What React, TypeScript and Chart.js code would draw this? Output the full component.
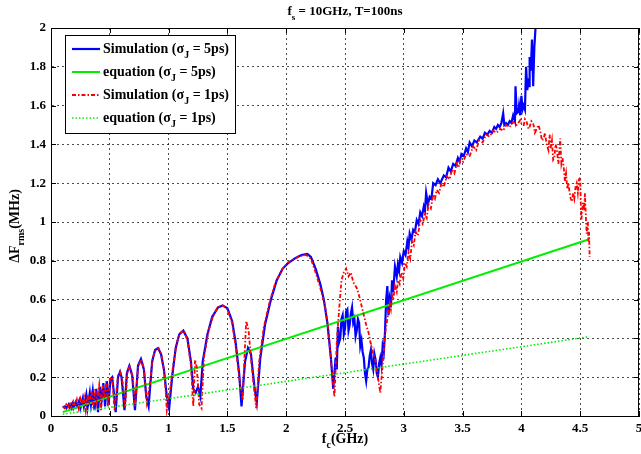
import { useEffect, useRef } from 'react';
import { Chart, registerables } from 'chart.js';

Chart.register(...registerables);

// Simulation, sigma_J = 5ps (blue)
const sim5X = [
  0.10, 0.12, 0.13, 0.15, 0.16, 0.18, 0.19, 0.21, 0.22, 0.24, 0.25, 0.27, 0.28, 0.30, 0.31, 0.33, 0.34, 0.355, 0.37, 0.385,
  0.40, 0.415, 0.43, 0.445, 0.46, 0.475, 0.49, 0.505, 0.52, 0.535, 0.55, 0.57, 0.587, 0.60, 0.625, 0.645, 0.666, 0.69, 0.714, 0.74,
  0.765, 0.79, 0.81, 0.83, 0.86, 0.885, 0.91, 0.935, 0.96, 0.985, 1.005, 1.03, 1.06, 1.09, 1.125, 1.16, 1.19, 1.21, 1.23, 1.25,
  1.27, 1.29, 1.33, 1.37, 1.42, 1.46, 1.50, 1.54, 1.57, 1.60, 1.62, 1.65, 1.675, 1.70, 1.73, 1.75, 1.78, 1.82, 1.87, 1.92,
  1.97, 2.02, 2.08, 2.13, 2.18, 2.21, 2.25, 2.29, 2.32, 2.35, 2.38, 2.40, 2.42, 2.43, 2.44, 2.45, 2.46, 2.47, 2.48, 2.49,
  2.50, 2.51, 2.52, 2.53, 2.54, 2.55, 2.56, 2.57, 2.58, 2.59, 2.60, 2.61, 2.62, 2.63, 2.64, 2.65, 2.66, 2.67, 2.68, 2.69,
  2.70, 2.71, 2.72, 2.73, 2.74, 2.75, 2.76, 2.77, 2.78, 2.79, 2.80, 2.81, 2.82, 2.83, 2.84, 2.85, 2.86, 2.87, 2.88, 2.89,
  2.90, 2.91, 2.925, 2.94, 2.95, 2.96, 2.97, 2.985, 3.00, 3.015, 3.03, 3.04, 3.05, 3.065, 3.08, 3.095, 3.11, 3.125, 3.14, 3.155,
  3.17, 3.18, 3.19, 3.205, 3.22, 3.235, 3.25, 3.27, 3.29, 3.31, 3.34, 3.36, 3.38, 3.40, 3.42, 3.44, 3.46, 3.475, 3.49, 3.51,
  3.53, 3.545, 3.56, 3.58, 3.60, 3.62, 3.65, 3.67, 3.69, 3.71, 3.73, 3.75, 3.77, 3.785, 3.80, 3.815, 3.83, 3.845, 3.855, 3.87,
  3.885, 3.90, 3.915, 3.93, 3.945, 3.95, 3.96, 3.975, 3.98, 3.99, 4.00, 4.01, 4.02, 4.03, 4.04, 4.05, 4.06, 4.065, 4.07, 4.08,
  4.09, 4.10, 4.11, 4.12,
];
const sim5Y = [
  0.045, 0.05, 0.04, 0.06, 0.045, 0.065, 0.04, 0.07, 0.05, 0.08, 0.04, 0.09, 0.05, 0.11, 0.04, 0.12, 0.06, 0.13, 0.03, 0.14,
  0.02, 0.15, 0.08, 0.17, 0.05, 0.18, 0.06, 0.19, 0.20, 0.12, 0.02, 0.20, 0.228, 0.20, 0.03, 0.22, 0.258, 0.21, 0.03, 0.26,
  0.294, 0.24, 0.10, 0.05, 0.28, 0.34, 0.35, 0.32, 0.24, 0.10, 0.04, 0.20, 0.35, 0.42, 0.44, 0.40, 0.28, 0.14, 0.12, 0.15,
  0.10, 0.28, 0.42, 0.51, 0.56, 0.57, 0.555, 0.49, 0.38, 0.22, 0.05, 0.28, 0.35, 0.32, 0.15, 0.07, 0.30, 0.47, 0.60, 0.70,
  0.76, 0.79, 0.815, 0.83, 0.835, 0.82, 0.76, 0.68, 0.60, 0.48, 0.30, 0.14, 0.30, 0.24, 0.46, 0.38, 0.40, 0.50, 0.52, 0.42,
  0.45, 0.54, 0.55, 0.44, 0.47, 0.53, 0.56, 0.48, 0.50, 0.41, 0.44, 0.50, 0.48, 0.36, 0.39, 0.33, 0.30, 0.22, 0.18, 0.24,
  0.25, 0.31, 0.34, 0.27, 0.24, 0.32, 0.29, 0.22, 0.20, 0.27, 0.30, 0.26, 0.36, 0.33, 0.43, 0.60, 0.67, 0.52, 0.60, 0.56,
  0.70, 0.64, 0.77, 0.72, 0.78, 0.75, 0.82, 0.79, 0.85, 0.83, 0.90, 0.87, 0.94, 0.91, 0.96, 0.95, 1.01, 0.99, 1.05, 1.03,
  1.08, 1.06, 1.15, 1.09, 1.13, 1.12, 1.20, 1.19, 1.22, 1.20, 1.24, 1.23, 1.28, 1.26, 1.30, 1.29, 1.33, 1.31, 1.35, 1.34,
  1.38, 1.36, 1.41, 1.39, 1.42, 1.41, 1.44, 1.43, 1.46, 1.45, 1.47, 1.46, 1.49, 1.48, 1.50, 1.49, 1.51, 1.56, 1.50, 1.51,
  1.50, 1.52, 1.51, 1.55, 1.52, 1.70, 1.56, 1.57, 1.60, 1.55, 1.65, 1.58, 1.60, 1.58, 1.80, 1.68, 1.74, 1.70, 1.85, 1.78,
  1.94, 1.70, 1.90, 2.00,
];

// Simulation, sigma_J = 1ps (red)
const sim1X = [
  0.10, 0.115, 0.13, 0.145, 0.16, 0.175, 0.19, 0.205, 0.22, 0.235, 0.25, 0.265, 0.28, 0.295, 0.31, 0.325, 0.345, 0.36, 0.375, 0.39,
  0.41, 0.425, 0.44, 0.455, 0.47, 0.485, 0.50, 0.52, 0.54, 0.555, 0.57, 0.59, 0.61, 0.63, 0.65, 0.67, 0.695, 0.715, 0.74, 0.765,
  0.79, 0.815, 0.84, 0.865, 0.89, 0.915, 0.94, 0.965, 0.985, 1.01, 1.04, 1.07, 1.10, 1.13, 1.16, 1.19, 1.21, 1.225, 1.24, 1.26,
  1.28, 1.30, 1.34, 1.38, 1.42, 1.46, 1.50, 1.54, 1.57, 1.60, 1.63, 1.645, 1.66, 1.68, 1.70, 1.72, 1.745, 1.77, 1.81, 1.86,
  1.91, 1.96, 2.01, 2.07, 2.12, 2.17, 2.21, 2.25, 2.29, 2.33, 2.36, 2.39, 2.41, 2.43, 2.45, 2.47, 2.49, 2.51, 2.53, 2.55,
  2.57, 2.60, 2.62, 2.64, 2.66, 2.68, 2.70, 2.72, 2.74, 2.76, 2.78, 2.80, 2.82, 2.84, 2.86, 2.88, 2.89, 2.90, 2.91, 2.925,
  2.94, 2.95, 2.965, 2.98, 2.995, 3.01, 3.025, 3.04, 3.055, 3.07, 3.085, 3.10, 3.12, 3.14, 3.16, 3.18, 3.195, 3.21, 3.23, 3.25,
  3.265, 3.28, 3.30, 3.32, 3.34, 3.365, 3.39, 3.41, 3.43, 3.45, 3.465, 3.48, 3.505, 3.53, 3.56, 3.59, 3.615, 3.64, 3.67, 3.70,
  3.73, 3.76, 3.79, 3.82, 3.845, 3.87, 3.90, 3.93, 3.96, 3.99, 4.005, 4.02, 4.03, 4.045, 4.06, 4.07, 4.085, 4.10, 4.115, 4.13,
  4.145, 4.16, 4.175, 4.19, 4.20, 4.215, 4.23, 4.24, 4.25, 4.26, 4.27, 4.28, 4.29, 4.30, 4.315, 4.33, 4.34, 4.35, 4.36, 4.37,
  4.38, 4.39, 4.40, 4.41, 4.42, 4.43, 4.44, 4.45, 4.46, 4.47, 4.48, 4.49, 4.50, 4.505, 4.51, 4.52, 4.525, 4.535, 4.54, 4.55,
  4.555, 4.565, 4.57, 4.575, 4.58,
];
const sim1Y = [
  0.05, 0.04, 0.06, 0.045, 0.07, 0.04, 0.075, 0.05, 0.085, 0.04, 0.09, 0.06, 0.10, 0.03, 0.11, 0.07, 0.13, 0.04, 0.14, 0.07,
  0.16, 0.03, 0.16, 0.09, 0.18, 0.05, 0.19, 0.20, 0.03, 0.12, 0.21, 0.225, 0.17, 0.04, 0.23, 0.255, 0.20, 0.05, 0.25, 0.29,
  0.25, 0.07, 0.16, 0.30, 0.34, 0.35, 0.31, 0.22, 0.03, 0.12, 0.27, 0.38, 0.43, 0.44, 0.39, 0.26, 0.05, 0.29, 0.25, 0.06,
  0.04, 0.30, 0.44, 0.52, 0.56, 0.57, 0.55, 0.48, 0.36, 0.20, 0.08, 0.30, 0.49, 0.44, 0.30, 0.18, 0.04, 0.28, 0.46, 0.59,
  0.69, 0.75, 0.79, 0.81, 0.825, 0.83, 0.81, 0.74, 0.66, 0.57, 0.44, 0.22, 0.10, 0.38, 0.55, 0.70, 0.74, 0.76, 0.72, 0.74,
  0.69, 0.66, 0.62, 0.57, 0.52, 0.47, 0.43, 0.37, 0.32, 0.28, 0.20, 0.12, 0.26, 0.42, 0.50, 0.58, 0.55, 0.62, 0.60, 0.67,
  0.64, 0.70, 0.68, 0.74, 0.71, 0.79, 0.77, 0.84, 0.81, 0.90, 0.88, 0.95, 0.93, 1.01, 0.99, 1.04, 1.02, 1.09, 1.07, 1.14,
  1.12, 1.165, 1.15, 1.20, 1.18, 1.235, 1.22, 1.27, 1.25, 1.30, 1.28, 1.32, 1.31, 1.35, 1.34, 1.39, 1.37, 1.42, 1.41, 1.45,
  1.44, 1.47, 1.46, 1.48, 1.47, 1.50, 1.49, 1.515, 1.50, 1.525, 1.50, 1.50, 1.53, 1.515, 1.48, 1.49, 1.52, 1.51, 1.46, 1.48,
  1.50, 1.47, 1.42, 1.43, 1.46, 1.40, 1.37, 1.45, 1.38, 1.42, 1.32, 1.33, 1.40, 1.38, 1.30, 1.43, 1.30, 1.33, 1.28, 1.21,
  1.25, 1.17, 1.20, 1.15, 1.12, 1.105, 1.15, 1.12, 1.18, 1.20, 1.15, 1.22, 1.23, 1.10, 1.01, 1.08, 1.10, 1.06, 1.15, 1.00,
  0.94, 1.00, 0.90, 0.95, 0.82,
];

// Equation lines (straight, two end points each)
const eq5X = [0.1, 4.57];
const eq5Y = [0.02, 0.91];
const eq1X = [0.1, 4.57];
const eq1Y = [0.009, 0.408];

const legendNames = ['Simulation', 'equation', 'Simulation', 'equation'];
const legendSigma = ['5ps', '5ps', '1ps', '1ps'];

const FONT = '"Liberation Serif", "Times New Roman", serif';

const zip = (xs: number[], ys: number[]) => xs.map((x, i) => ({ x, y: ys[i] }));

type Part = { t: string; sub?: boolean };

function drawRich(ctx: CanvasRenderingContext2D, parts: Part[], x: number, y: number, align: 'left' | 'center', size: number) {
  const main = `bold ${size}px ${FONT}`;
  const sub = `bold ${Math.round(size * 0.72)}px ${FONT}`;
  let w = 0;
  for (const p of parts) {
    ctx.font = p.sub ? sub : main;
    w += ctx.measureText(p.t).width;
  }
  let cx = align === 'center' ? x - w / 2 : x;
  ctx.textAlign = 'left';
  ctx.textBaseline = 'alphabetic';
  for (const p of parts) {
    ctx.font = p.sub ? sub : main;
    ctx.fillText(p.t, cx, p.sub ? y + size * 0.35 : y);
    cx += ctx.measureText(p.t).width;
  }
}

const styles = [
  { color: '#0000ff', width: 2.2, dash: [] as number[] },
  { color: '#00ee00', width: 2, dash: [] as number[] },
  { color: '#ff0000', width: 1.8, dash: [4, 2, 1.5, 2] },
  { color: '#00ee00', width: 1.6, dash: [1.5, 2] },
];

const fmt = (v: number | string) => String(Number(Number(v).toFixed(2)));

const decorPlugin = {
  id: 'decor',
  afterDraw(chart: any) {
    const ctx: CanvasRenderingContext2D = chart.ctx;
    const { left, right, top, bottom } = chart.chartArea;
    const xs = chart.scales.x;
    const ys = chart.scales.y;
    ctx.save();
    // frame
    ctx.strokeStyle = '#000';
    ctx.lineWidth = 1;
    ctx.setLineDash([]);
    ctx.strokeRect(Math.round(left) + 0.5, Math.round(top) + 0.5, Math.round(right - left) - 1, Math.round(bottom - top));
    // inward ticks
    ctx.beginPath();
    for (const t of xs.ticks) {
      const px = Math.round(xs.getPixelForValue(t.value)) + 0.5;
      ctx.moveTo(px, bottom);
      ctx.lineTo(px, bottom - 5);
      ctx.moveTo(px, top);
      ctx.lineTo(px, top + 5);
    }
    for (const t of ys.ticks) {
      const py = Math.round(ys.getPixelForValue(t.value)) + 0.5;
      ctx.moveTo(left, py);
      ctx.lineTo(left + 5, py);
      ctx.moveTo(right, py);
      ctx.lineTo(right - 5, py);
    }
    ctx.stroke();

    ctx.fillStyle = '#000';
    // title
    drawRich(ctx, [{ t: 'f' }, { t: 's', sub: true }, { t: ' = 10GHz, T=100ns' }], (left + right) / 2, 15, 'center', 13);
    // x label
    drawRich(ctx, [{ t: 'f' }, { t: 'c', sub: true }, { t: '(GHz)' }], (left + right) / 2, 443, 'center', 14);
    // y label
    ctx.save();
    ctx.translate(19, (top + bottom) / 2 + 4);
    ctx.rotate(-Math.PI / 2);
    drawRich(ctx, [{ t: 'ΔF' }, { t: 'rms', sub: true }, { t: '(MHz)' }], 0, 0, 'center', 14);
    ctx.restore();

    // legend
    const lx = 65.5, ly = 35.5, lw = 170, lh = 98;
    ctx.fillStyle = '#fff';
    ctx.fillRect(lx, ly, lw, lh);
    ctx.strokeStyle = '#000';
    ctx.lineWidth = 1;
    ctx.strokeRect(lx, ly, lw, lh);
    for (let i = 0; i < legendNames.length; i++) {
      const yy = 49 + i * 23;
      const s = styles[i];
      ctx.beginPath();
      ctx.strokeStyle = s.color;
      ctx.lineWidth = s.width;
      ctx.setLineDash(s.dash);
      ctx.moveTo(72, yy);
      ctx.lineTo(100, yy);
      ctx.stroke();
      ctx.setLineDash([]);
      ctx.fillStyle = '#000';
      drawRich(
        ctx,
        [{ t: legendNames[i] + ' (' }, { t: 'σ' }, { t: 'J', sub: true }, { t: ' = ' + legendSigma[i] + ')' }],
        103,
        yy + 4,
        'left',
        14,
      );
    }
    ctx.restore();
  },
};

export default function App() {
  const ref = useRef<HTMLCanvasElement | null>(null);
  useEffect(() => {
    if (!ref.current) return;
    const tickFont = { family: FONT, size: 13, weight: 'bold' as const };
    const chart = new Chart(ref.current, {
      type: 'line',
      data: {
        datasets: [
          { label: 'Simulation (σJ = 5ps)', data: zip(sim5X, sim5Y), borderColor: styles[0].color, borderWidth: styles[0].width, pointRadius: 0, tension: 0, order: 4 },
          { label: 'equation (σJ = 5ps)', data: zip(eq5X, eq5Y), borderColor: styles[1].color, borderWidth: styles[1].width, pointRadius: 0, tension: 0, order: 3 },
          { label: 'Simulation (σJ = 1ps)', data: zip(sim1X, sim1Y), borderColor: styles[2].color, borderWidth: styles[2].width, borderDash: styles[2].dash, pointRadius: 0, tension: 0, order: 2 },
          { label: 'equation (σJ = 1ps)', data: zip(eq1X, eq1Y), borderColor: styles[3].color, borderWidth: styles[3].width, borderDash: styles[3].dash, pointRadius: 0, tension: 0, order: 1 },
        ],
      },
      options: {
        responsive: false,
        animation: false,
        layout: { padding: { top: 28, right: 2, left: 0, bottom: 0 } },
        plugins: { legend: { display: false }, title: { display: false }, tooltip: { enabled: false } },
        scales: {
          x: {
            type: 'linear',
            min: 0,
            max: 5,
            ticks: { stepSize: 0.5, font: tickFont, color: '#000', padding: 5, maxRotation: 0, autoSkip: false, callback: (v: any) => fmt(v) },
            grid: { color: 'rgba(0,0,0,0.7)', lineWidth: 1, drawTicks: false },
            border: { display: true, color: '#000', dash: [2, 3] },
            afterFit: (s: any) => {
              s.height = 38;
              s.paddingLeft = 0;
              s.paddingRight = 0;
            },
          },
          y: {
            type: 'linear',
            min: 0,
            max: 2,
            ticks: { stepSize: 0.2, font: tickFont, color: '#000', padding: 5, callback: (v: any) => fmt(v) },
            grid: { color: 'rgba(0,0,0,0.7)', lineWidth: 1, drawTicks: false },
            border: { display: true, color: '#000', dash: [2, 3] },
            afterFit: (s: any) => {
              s.width = 51;
              s.paddingTop = 0;
              s.paddingBottom = 0;
            },
          },
        },
      },
      plugins: [decorPlugin],
    });
    return () => chart.destroy();
  }, []);
  return (
    <div style={{ position: 'fixed', left: 0, top: 0, width: 641, height: 454, background: '#fff' }}>
      <canvas ref={ref} width={641} height={454} style={{ display: 'block' }} />
    </div>
  );
}
